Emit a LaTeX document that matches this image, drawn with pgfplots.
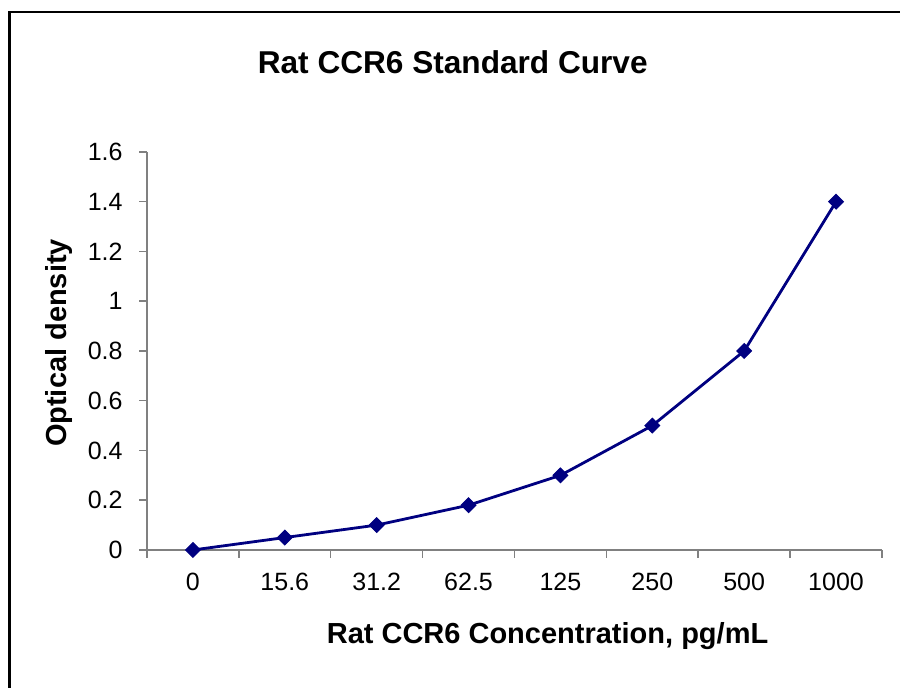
\documentclass[border=0pt]{standalone}
\usepackage{pgfplots}
\pgfplotsset{compat=1.18}
\usepackage{fontspec}
\setmainfont{Liberation Sans}
\definecolor{curve}{HTML}{000080}
\definecolor{axgray}{HTML}{808080}
\begin{document}
\begin{tikzpicture}
\path[use as bounding box] (0,0) rectangle (450pt,344pt);
\draw[line width=1.2pt, black] (4.75pt,0) -- (4.75pt,338pt) -- (450pt,338pt);
\begin{axis}[
  at={(73.5pt,69pt)}, anchor=south west,
  width=367.5pt, height=199pt, scale only axis,
  xmin=-0.5, xmax=7.5, ymin=0, ymax=1.6,
  axis x line*=bottom, axis y line*=left,
  axis line style={axgray, line width=0.75pt},
  tick align=outside,
  xtick={0,1,2,3,4,5,6,7},
  xticklabels={0,15.6,31.2,62.5,125,250,500,1000},
  minor xtick={-0.5,0.5,1.5,2.5,3.5,4.5,5.5,6.5,7.5},
  major x tick style={draw=none},
  minor x tick style={axgray, line width=0.75pt},
  minor tick length=4pt,
  ytick={0,0.2,0.4,0.6,0.8,1,1.2,1.4,1.6},
  yticklabels={0,0.2,0.4,0.6,0.8,1,1.2,1.4,1.6},
  major y tick style={axgray, line width=0.75pt},
  major tick length=4pt,
  /pgf/number format/assume math mode=true,
  ticklabel style={font=\fontsize{12.5}{14}\selectfont, text=black},
  yticklabel style={anchor=east, inner sep=0pt, xshift=-8pt},
  xticklabel style={anchor=north, inner sep=0pt, yshift=-7.5pt},
  title={Rat CCR6 Standard Curve},
  title style={at={(axis description cs:0.416,1.168)}, anchor=base, inner sep=0pt, font=\fontsize{15.8}{18}\bfseries},
  xlabel={Rat CCR6 Concentration, pg/mL},
  xlabel style={at={(axis description cs:0.545,-0.234)}, anchor=base, inner sep=0pt, font=\fontsize{14.5}{17}\bfseries},
  ylabel={Optical density},
  ylabel style={at={(axis description cs:-0.110,0.520)}, anchor=base, inner sep=0pt, rotate=0, font=\fontsize{14.5}{17}\bfseries},
  clip=false,
]
\addplot[curve, line width=1.4pt, mark=square*, mark size=2.6pt, mark options={rotate=45, fill=curve, draw=curve, line width=0.5pt}]
  coordinates {(0,0) (1,0.05) (2,0.1) (3,0.18) (4,0.3) (5,0.5) (6,0.8) (7,1.4)};
\end{axis}
\end{tikzpicture}
\end{document}
